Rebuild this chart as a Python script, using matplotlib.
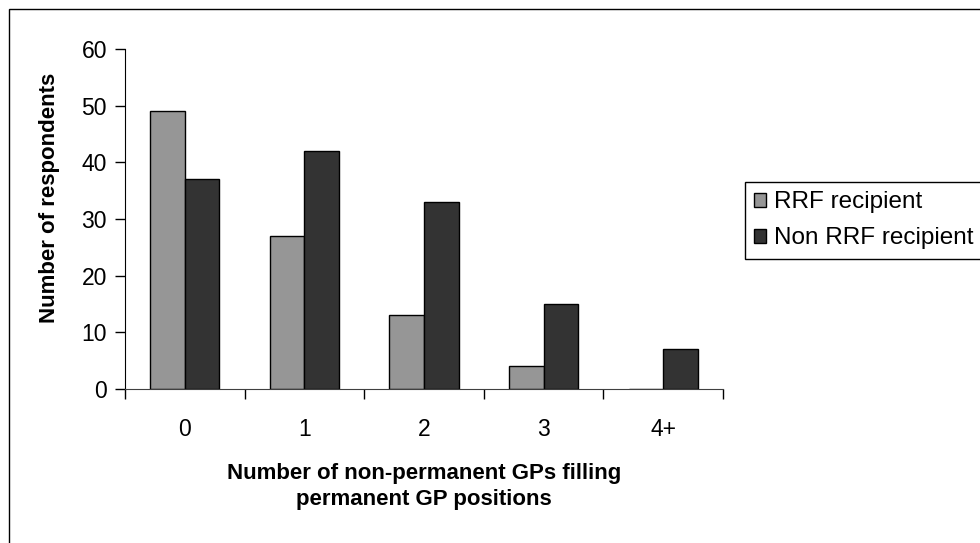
import matplotlib.pyplot as plt
import matplotlib.patches as mpatches
import numpy as np

plt.rcParams['font.family'] = ['Liberation Sans', 'DejaVu Sans']

# data
categories = ['0', '1', '2', '3', '4+']
rrf = [49, 27, 13, 4, 0]
non_rrf = [37, 42, 33, 15, 7]

W, H = 980, 543
fig = plt.figure(figsize=(W / 100, H / 100), dpi=100)
ax = fig.add_axes([125 / W, 1 - 389 / H, (723 - 125) / W, (389 - 49) / H])

x = np.arange(len(categories))
bw = 0.29
ax.bar(x - bw / 2, rrf, bw, color='#969696', edgecolor='black', linewidth=1,
       label='RRF recipient')
ax.bar(x + bw / 2, non_rrf, bw, color='#333333', edgecolor='black', linewidth=1,
       label='Non RRF recipient')

ax.set_xlim(-0.5, len(categories) - 0.5)
ax.set_ylim(0, 60)
ax.set_yticks(range(0, 61, 10))
ax.set_xticks(x)
ax.set_xticklabels(categories)
ax.set_xticks(np.arange(-0.5, len(categories), 1), minor=True)
ax.tick_params(axis='x', which='major', length=0, pad=21, labelsize=16.5)
ax.tick_params(axis='x', which='minor', length=7, width=1, direction='out')
ax.tick_params(axis='y', length=7, width=1, direction='out', pad=6, labelsize=16.5)

for s in ['top', 'right']:
    ax.spines[s].set_visible(False)
ax.spines['left'].set_color('black')
ax.spines['bottom'].set_color('#404040')

ax.set_ylabel('Number of respondents', fontsize=16, fontweight='bold')
ax.yaxis.set_label_coords(-0.108, (389 - 198) / 340)
ax.set_xlabel('Number of non-permanent GPs filling\npermanent GP positions',
              fontsize=16, fontweight='bold', labelpad=16, linespacing=1.3)

fig.legend(loc='upper left', bbox_to_anchor=(745 / W, 1 - 182 / H),
           frameon=True, fancybox=False, edgecolor='black', framealpha=1,
           fontsize=17.5, handlelength=0.5, handleheight=0.5, handletextpad=0.3,
           labelspacing=0.58, borderpad=0.38, borderaxespad=0)

# outer chart border
fig.patches.append(mpatches.Rectangle((9 / W, -0.1), 1.2, 1.1 - 9 / H,
                                      transform=fig.transFigure, fill=False,
                                      edgecolor='black', linewidth=1))

fig.savefig('out.png', dpi=100)
